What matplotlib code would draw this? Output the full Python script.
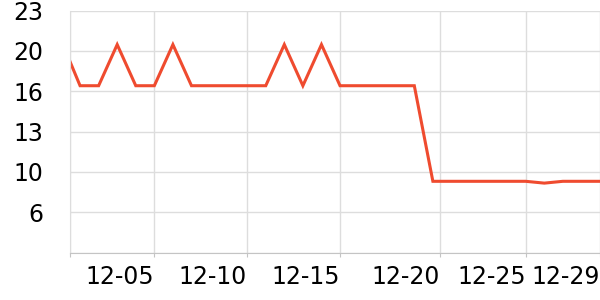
import matplotlib
matplotlib.use("Agg")
import matplotlib.pyplot as plt
import matplotlib.dates as mdates
from datetime import datetime, timedelta

# data
start = datetime(2023, 11, 30, 11, 0)
days = [datetime(2023, 12, d) for d in range(1, 30)]
dates = [start] + days
temps = [18.8,
         16.8, 16.8, 20.2, 16.8, 16.8, 20.2, 16.8, 16.8, 16.8, 16.8,
         16.8, 20.2, 16.8, 20.2, 16.8, 16.8, 16.8, 16.8, 16.8, 8.9,
         8.9, 8.9, 8.9, 8.9, 8.9, 8.75, 8.9, 8.9, 8.9]

tick_dates = [start, datetime(2023, 12, 5), datetime(2023, 12, 10),
              datetime(2023, 12, 15), datetime(2023, 12, 20, 9, 0),
              datetime(2023, 12, 25), datetime(2023, 12, 29)]
tick_labels = ["", "12-05", "12-10", "12-15", "12-20", "12-25", "12-29"]
y_ticks = [3, 6.33, 9.67, 13, 16.33, 19.67, 23]
y_labels = ["", "6", "10", "13", "16", "20", "23"]

fig = plt.figure(figsize=(6, 3), dpi=100)
ax = fig.add_axes([70 / 600, 47.3 / 300, 530 / 600, 242 / 300])

ax.plot(dates, temps, color="#ef4b2f", linewidth=2.2, solid_joinstyle="miter")

ax.set_xlim(start, datetime(2023, 12, 29))
ax.set_ylim(3, 23)
ax.set_xticks([mdates.date2num(d) for d in tick_dates])
ax.set_xticklabels(tick_labels, ha="right")
ax.set_yticks(y_ticks)
ax.set_yticklabels(y_labels)

ax.grid(True, color="#dddddd", linewidth=1)
ax.set_axisbelow(True)
for s in ["top", "right"]:
    ax.spines[s].set_visible(False)
ax.spines["left"].set_color("#dddddd")
ax.spines["bottom"].set_color("#c4c4c4")
ax.tick_params(axis="y", length=0, pad=19, labelsize=17)
ax.tick_params(axis="x", length=3, color="#c4c4c4", pad=6, labelsize=17)
for lbl in ax.get_xticklabels():
    lbl.set_x(lbl.get_position()[0])

fig.savefig("out.png", dpi=100)
